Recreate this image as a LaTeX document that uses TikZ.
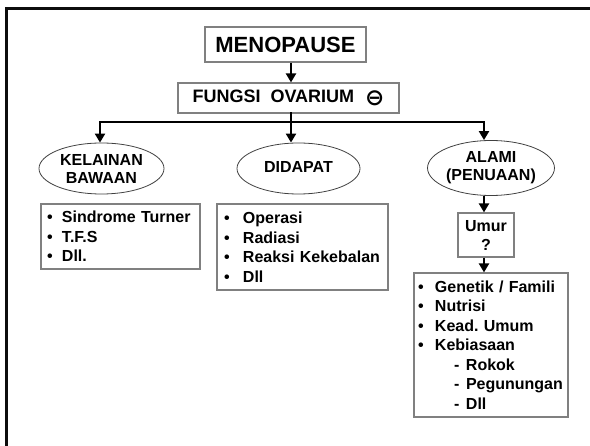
\documentclass[tikz,border=0pt]{standalone}
\usepackage{fontspec}
\setmainfont{Liberation Sans}
\newfontfamily\symfont{DejaVu Sans}
\usetikzlibrary{arrows.meta,shapes.geometric}
\frenchspacing
% bullet followed by a fixed gap before the item text
\newcommand{\lbul}[1]{\makebox[#1][l]{•}}
\newcommand{\ldash}{\hspace*{36pt}\makebox[12pt][l]{-}}
\begin{document}
\begin{tikzpicture}[x=1pt,y=-1pt,
  arr/.style={line width=2.2pt,-{Triangle[length=9pt,width=10pt]}},
  link/.style={line width=2.2pt,line cap=rect},
  bubble/.style={ellipse,draw=black!75,line width=0.8pt,inner sep=0pt,align=center,
    font=\bfseries\fontsize{16}{18}\selectfont},
  titlebox/.style={rectangle,draw=black!50,line width=1.2pt,inner sep=0pt},
  listbox/.style={rectangle,draw=black!50,line width=1.2pt,align=left,inner ysep=0pt,
    font=\bfseries\fontsize{16}{19.5}\selectfont},
]
\useasboundingbox (0,0) rectangle (590,446);

% outer frame (top and left edges)
\draw[line width=3pt,black!95,line join=miter] (6.5,450) -- (6.5,8.5) -- (595,8.5);

% title and first level
\node[titlebox,minimum width=161pt,minimum height=35pt,
      font=\bfseries\fontsize{22}{26}\selectfont] (meno) at (285.5,44.5) {MENOPAUSE};
\node[titlebox,minimum width=221pt,minimum height=30pt,
      font=\bfseries\fontsize{18}{21}\selectfont] (fungsi) at (288.5,98)
      {FUNGSI\hspace{10pt}OVARIUM\hspace{11pt}\raisebox{-2.5pt}{\symfont\bfseries\fontsize{23}{23}\selectfont ⊖}};

\coordinate (stem) at (291,122);
\coordinate (b1) at (100,122);
\coordinate (b3) at (484,122);

% the three causes
\node[bubble,minimum width=125pt,minimum height=51pt] (kel) at (101.5,168.5) {KELAINAN\\BAWAAN};
\node[bubble,minimum width=123pt,minimum height=51pt] (did) at (298.5,168.5) {\raisebox{4pt}{DIDAPAT}};
\node[bubble,minimum width=124pt,minimum height=55pt] (ala) at (491,168) {ALAMI\\(PENUAAN)};

\node[titlebox,minimum width=56pt,minimum height=44pt,align=center,
      font=\bfseries\fontsize{16}{19}\selectfont] (umur) at (486,235) {Umur\\?};

% lists
\node[listbox,text width=147pt,inner xsep=6pt,minimum height=65pt] (l1) at (120.5,236.5)
  {\lbul{15pt}Sindrome Turner\\
   \lbul{15pt}T.F.S\\
   \lbul{15pt}Dll.};
\node[listbox,text width=157pt,inner xsep=7pt,minimum height=86pt] (l2) at (302.5,247)
  {\lbul{19pt}Operasi\\
   \lbul{19pt}Radiasi\\
   \lbul{19pt}Reaksi Kekebalan\\
   \lbul{19pt}Dll};
\node[listbox,text width=146pt,inner xsep=4pt,minimum height=144pt] (l3) at (491,345)
  {\lbul{17pt}Genetik / Famili\\
   \lbul{17pt}Nutrisi\\
   \lbul{17pt}Kead. Umum\\
   \lbul{17pt}Kebiasaan\\
   \ldash Rokok\\
   \ldash Pegunungan\\
   \ldash Dll};

% connectors
\draw[arr] (meno.south -| stem) -- (fungsi.north -| stem);
\draw[link] (fungsi.south -| stem) -- (stem);
\draw[link] (b1) -- (b3);
\draw[arr] (b1) -- (b1 |- kel.north);
\draw[arr] (stem) -- (stem |- did.north);
\draw[arr] (b3) -- (b3 |- ala.north);
\draw[arr] (ala.south -| b3) -- (umur.north -| b3);
\draw[arr] (umur.south -| b3) -- (l3.north -| b3);
\end{tikzpicture}
\end{document}
